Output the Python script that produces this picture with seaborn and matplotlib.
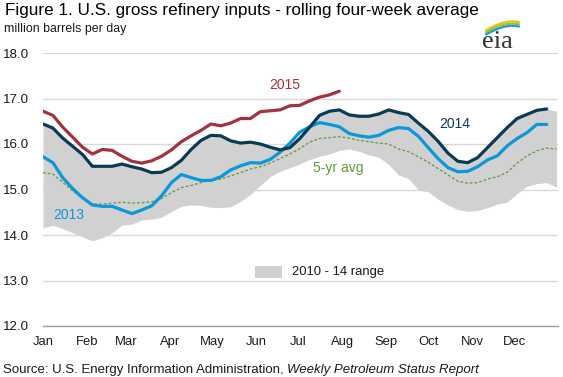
import numpy as np
import pandas as pd
import matplotlib
matplotlib.use("Agg")
import matplotlib.pyplot as plt
import seaborn as sns
from matplotlib.patches import Rectangle

# ---------------- data (weekly, million barrels per day) ----------------
months = ["Jan", "Feb", "Mar", "Apr", "May", "Jun",
          "Jul", "Aug", "Sep", "Oct", "Nov", "Dec"]
month_start_day = [0, 31, 59, 90, 120, 151, 181, 212, 243, 273, 304, 334, 365]

y2015 = [16.72, 16.63, 16.37, 16.15, 15.93, 15.78, 15.88, 15.86, 15.73, 15.62,
         15.58, 15.63, 15.73, 15.87, 16.05, 16.18, 16.30, 16.44, 16.40, 16.46,
         16.56, 16.56, 16.71, 16.73, 16.75, 16.84, 16.85, 16.95, 17.03, 17.08,
         17.16]

y2014 = [16.44, 16.35, 16.13, 15.95, 15.77, 15.51, 15.51, 15.51, 15.56, 15.50,
         15.45, 15.37, 15.38, 15.48, 15.64, 15.88, 16.08, 16.19, 16.18, 16.07,
         16.02, 16.04, 16.00, 15.93, 15.87, 15.92, 16.12, 16.37, 16.63, 16.72,
         16.75, 16.64, 16.61, 16.61, 16.66, 16.75, 16.69, 16.65, 16.46, 16.28,
         16.06, 15.80, 15.62, 15.59, 15.70, 15.92, 16.14, 16.36, 16.56, 16.65,
         16.74, 16.77]

y2013 = [15.72, 15.59, 15.26, 15.02, 14.82, 14.66, 14.63, 14.63, 14.55, 14.47,
         14.55, 14.64, 14.86, 15.15, 15.33, 15.26, 15.20, 15.20, 15.28, 15.43,
         15.52, 15.59, 15.58, 15.66, 15.82, 16.02, 16.26, 16.38, 16.47, 16.43,
         16.38, 16.23, 16.18, 16.15, 16.19, 16.30, 16.36, 16.34, 16.17, 15.92,
         15.68, 15.48, 15.39, 15.40, 15.50, 15.65, 15.74, 15.96, 16.12, 16.25,
         16.43, 16.43]

avg5 = [15.37, 15.34, 15.16, 14.97, 14.80, 14.68, 14.68, 14.70, 14.72, 14.70,
        14.71, 14.73, 14.80, 14.93, 15.04, 15.09, 15.15, 15.20, 15.23, 15.30,
        15.37, 15.45, 15.50, 15.58, 15.68, 15.78, 15.90, 16.04, 16.12, 16.14,
        16.16, 16.13, 16.08, 16.05, 16.02, 16.00, 15.89, 15.83, 15.72, 15.60,
        15.46, 15.32, 15.18, 15.14, 15.15, 15.23, 15.28, 15.38, 15.58, 15.74,
        15.85, 15.91, 15.89]

range_low = [14.16, 14.21, 14.14, 14.05, 13.96, 13.87, 13.94, 14.05, 14.22, 14.24,
             14.33, 14.35, 14.39, 14.52, 14.63, 14.66, 14.65, 14.61, 14.60, 14.62,
             14.74, 14.89, 15.09, 15.28, 15.40, 15.48, 15.56, 15.66, 15.73, 15.78,
             15.86, 15.89, 15.84, 15.76, 15.71, 15.55, 15.32, 15.24, 14.99, 14.95,
             14.79, 14.66, 14.56, 14.52, 14.54, 14.60, 14.68, 14.72, 14.91, 15.07,
             15.13, 15.15, 15.05]

range_high = [16.44, 16.35, 16.13, 15.95, 15.77, 15.51, 15.51, 15.51, 15.56, 15.50,
              15.45, 15.37, 15.38, 15.48, 15.64, 15.88, 16.08, 16.19, 16.18, 16.07,
              16.02, 16.04, 16.00, 15.93, 15.87, 15.92, 16.12, 16.37, 16.63, 16.72,
              16.75, 16.64, 16.61, 16.61, 16.66, 16.75, 16.69, 16.65, 16.46, 16.28,
              16.06, 15.80, 15.62, 15.59, 15.70, 15.92, 16.14, 16.36, 16.56, 16.65,
              16.74, 16.77, 16.72]

y_ticks = [12.0, 13.0, 14.0, 15.0, 16.0, 17.0, 18.0]

# ---------------- colours ----------------
C2015 = "#A3323F"
C2014 = "#0A3A55"
C2013 = "#0C97D8"
CAVG = "#5E9B35"
CRANGE = "#D1D1D1"

# ---------------- figure ----------------
sns.set_style("white")
plt.rcParams["font.family"] = ["Liberation Sans", "DejaVu Sans"]

W, H = 563, 377
fig = plt.figure(figsize=(W / 100, H / 100), dpi=100)
ax = fig.add_axes([43 / W, 1 - 326 / H, 515 / W, 273 / H])


def frame(vals):
    return pd.DataFrame({"day": np.arange(len(vals)) * 7, "value": vals})


rng = pd.DataFrame({"day": np.arange(len(range_low)) * 7,
                    "low": range_low, "high": range_high})
ax.fill_between(rng["day"], rng["low"], rng["high"], color=CRANGE, lw=0, zorder=1)

sns.lineplot(data=frame(avg5), x="day", y="value", color=CAVG, lw=0.9,
             linestyle=(0, (2.2, 1.6)), ax=ax, zorder=2)
sns.lineplot(data=frame(y2013), x="day", y="value", color=C2013, lw=2.3,
             ax=ax, zorder=3)
sns.lineplot(data=frame(y2014), x="day", y="value", color=C2014, lw=2.3,
             ax=ax, zorder=4)
sns.lineplot(data=frame(y2015), x="day", y="value", color=C2015, lw=2.3,
             ax=ax, zorder=5)

ax.set_xlim(0, 365)
ax.set_ylim(12, 18)
ax.set_yticks(y_ticks)
ax.set_yticklabels([f"{v:.1f}" for v in y_ticks])
ax.yaxis.grid(True, color="#D9D9D9", lw=1)
ax.set_axisbelow(True)
ax.set_xticks(month_start_day)
ax.set_xticklabels(months + [""])
ax.set_xlabel("")
ax.set_ylabel("")
for s in ["top", "right", "left"]:
    ax.spines[s].set_visible(False)
ax.spines["bottom"].set_color("#A0A0A0")
ax.spines["bottom"].set_linewidth(1)
ax.tick_params(axis="y", length=0, pad=10, labelsize=9.6, labelcolor="#1a1a1a")
ax.tick_params(axis="x", length=3.5, width=1, color="#A0A0A0", direction="out",
               pad=4, labelsize=9.4, labelcolor="#1a1a1a")

# series labels
ax.text(171, 17.30, "2015", color=C2015, fontsize=10, ha="center", va="center")
ax.text(292, 16.45, "2014", color=C2014, fontsize=10, ha="center", va="center")
ax.text(209, 15.47, "5-yr avg", color=CAVG, fontsize=10, ha="center", va="center")
ax.text(18, 14.45, "2013", color=C2013, fontsize=10, ha="center", va="center")

# legend for range
ax.add_patch(Rectangle((150.5, 13.05), 19, 0.26, color=CRANGE, lw=0, zorder=2))
ax.text(176.5, 13.19, "2010 - 14 range", fontsize=9.4, color="#1a1a1a",
        ha="left", va="center")

# titles
fig.text(5 / W, 1 - 3 / H, "Figure 1. U.S. gross refinery inputs - rolling four-week average",
         fontsize=12.3, ha="left", va="top", color="#000000")
fig.text(4 / W, 1 - 23 / H, "million barrels per day", fontsize=8.9,
         ha="left", va="top", color="#1a1a1a")

# source line
src1 = fig.text(3 / W, 1 - 373 / H, "Source: U.S. Energy Information Administration, ",
                fontsize=9.5, ha="left", va="baseline", color="#1a1a1a")
fig.canvas.draw()
bb = src1.get_window_extent(renderer=fig.canvas.get_renderer())
fig.text(bb.x1 / W, 1 - 373 / H, "Weekly Petroleum Status Report",
         fontsize=9.5, style="italic", ha="left", va="baseline", color="#1a1a1a")

# eia logo
lax = fig.add_axes([478 / W, 1 - 50 / H, 44 / W, 40 / H])
lax.set_xlim(0, 44)
lax.set_ylim(40, 0)
lax.axis("off")
t = np.linspace(0, 1, 40)
for off, col in [(0, "#F2C200"), (2.2, "#8DC63F"), (4.4, "#1E9AD6")]:
    xs = 8 + 33 * t
    ys = 20 + off - 12 * np.sin(np.pi * 0.55 * t) + 4 * t
    lax.plot(xs, ys, color=col, lw=1.6, solid_capstyle="round")
lax.text(4, 38, "eia", family=["Liberation Serif", "DejaVu Serif"], fontsize=19,
         color="#333333", ha="left", va="baseline")

fig.savefig("out.png", dpi=100)
